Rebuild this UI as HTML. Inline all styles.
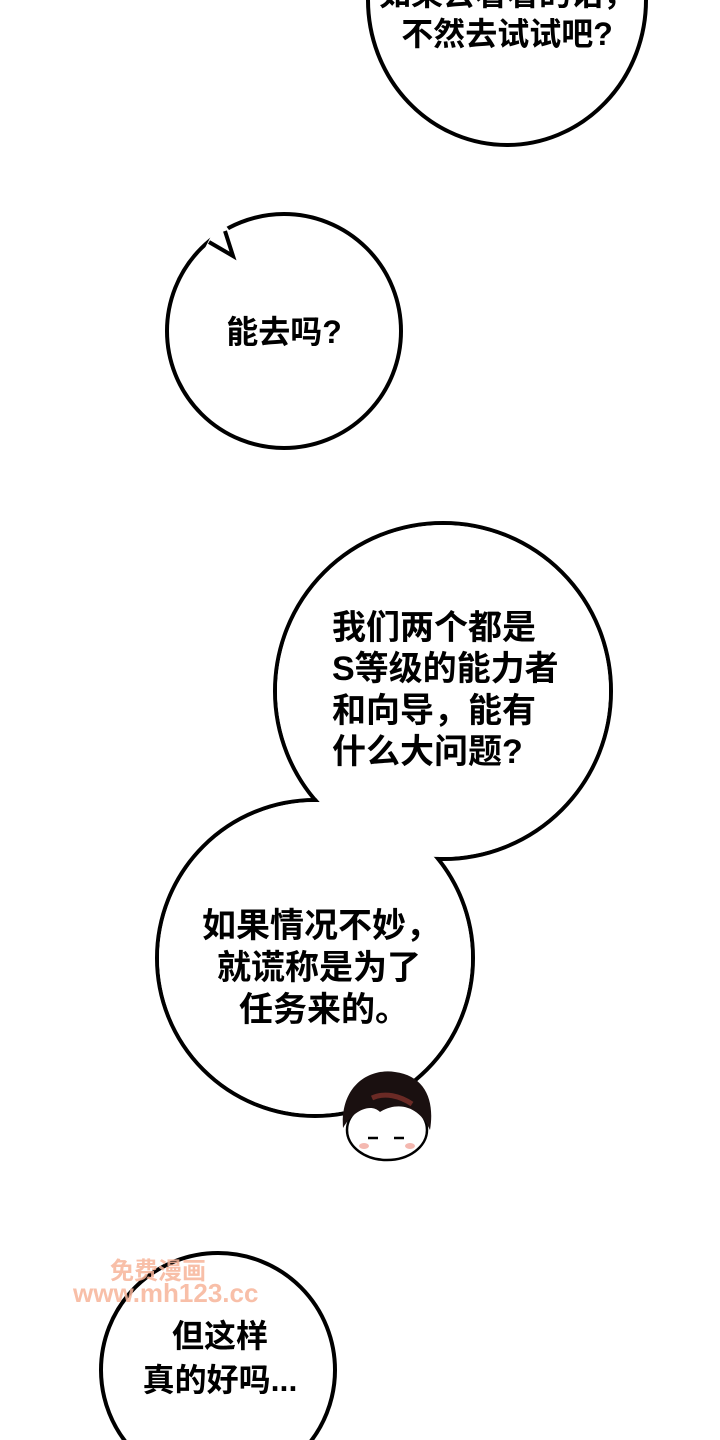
<!DOCTYPE html>
<html><head><meta charset="utf-8"><style>
html,body{margin:0;padding:0;background:#fff}
svg{display:block}
text{font-family:"Liberation Sans","Noto Sans CJK SC",sans-serif;fill:#000;font-weight:bold}
</style></head><body>
<svg width="720" height="1440" viewBox="0 0 720 1440">
<rect width="720" height="1440" fill="#fff"/>
<!-- top bubble -->
<ellipse cx="507" cy="0" rx="139" ry="145" fill="#fff" stroke="#000" stroke-width="4"/>
<text x="507" y="5" font-size="32" text-anchor="middle">如果去看看的话，</text>
<text x="507" y="45" font-size="32" text-anchor="middle">不然去试试吧?</text>
<!-- bubble 2 -->
<circle cx="284" cy="331" r="117" fill="#fff" stroke="#000" stroke-width="4"/>
<polygon points="204,250 211,236 226,226 232,234 234,258 212,252" fill="#fff"/>
<polyline points="209,242 233,256 225,231" fill="none" stroke="#000" stroke-width="4" stroke-linejoin="miter"/>
<text x="284" y="343" font-size="32" text-anchor="middle">能去吗?</text>
<!-- bubbles 3+4 -->
<circle cx="443" cy="691" r="168" fill="#fff" stroke="#000" stroke-width="4"/>
<circle cx="315" cy="958" r="158" fill="#fff" stroke="#000" stroke-width="4"/>
<circle cx="443" cy="691" r="166" fill="#fff"/>
<circle cx="315" cy="958" r="156" fill="#fff"/>
<g font-size="34">
<text x="332" y="639">我们两个都是</text>
<text x="332" y="680">S等级的能力者</text>
<text x="332" y="722">和向导，能有</text>
<text x="332" y="763">什么大问题?</text>
<text x="202" y="937">如果情况不妙，</text>
<text x="217" y="979">就谎称是为了</text>
<text x="239" y="1021">任务来的。</text>
</g>
<!-- chibi -->
<ellipse cx="387" cy="1130" rx="40" ry="30" fill="#fff" stroke="#000" stroke-width="2.5"/>
<path d="M343,1128 C340,1085 370,1068 395,1072 C425,1076 435,1100 430,1130 C420,1108 400,1100 380,1112 C370,1102 352,1112 343,1128 Z" fill="#1a1010"/>
<path d="M372,1098 C385,1092 400,1096 412,1104" stroke="#6a2a25" stroke-width="5" fill="none"/>
<path d="M368,1138 l10,0 M394,1138 l10,0" stroke="#000" stroke-width="2.5"/>
<ellipse cx="364" cy="1146" rx="5" ry="3" fill="#f4b8b0"/>
<ellipse cx="410" cy="1146" rx="5" ry="3" fill="#f4b8b0"/>
<!-- bubble 5 -->
<circle cx="218" cy="1370" r="117" fill="#fff" stroke="#000" stroke-width="4"/>
<text x="220" y="1347" font-size="32" text-anchor="middle">但这样</text>
<text x="220" y="1391" font-size="32" text-anchor="middle">真的好吗...</text>
<!-- watermark -->
<text x="110" y="1279" font-size="24" style="fill:#f7b49a;opacity:.85">免费漫画</text>
<text x="73" y="1302" font-size="26" style="fill:#f7b49a;opacity:.85">www.mh123.cc</text>
</svg>
</body></html>
